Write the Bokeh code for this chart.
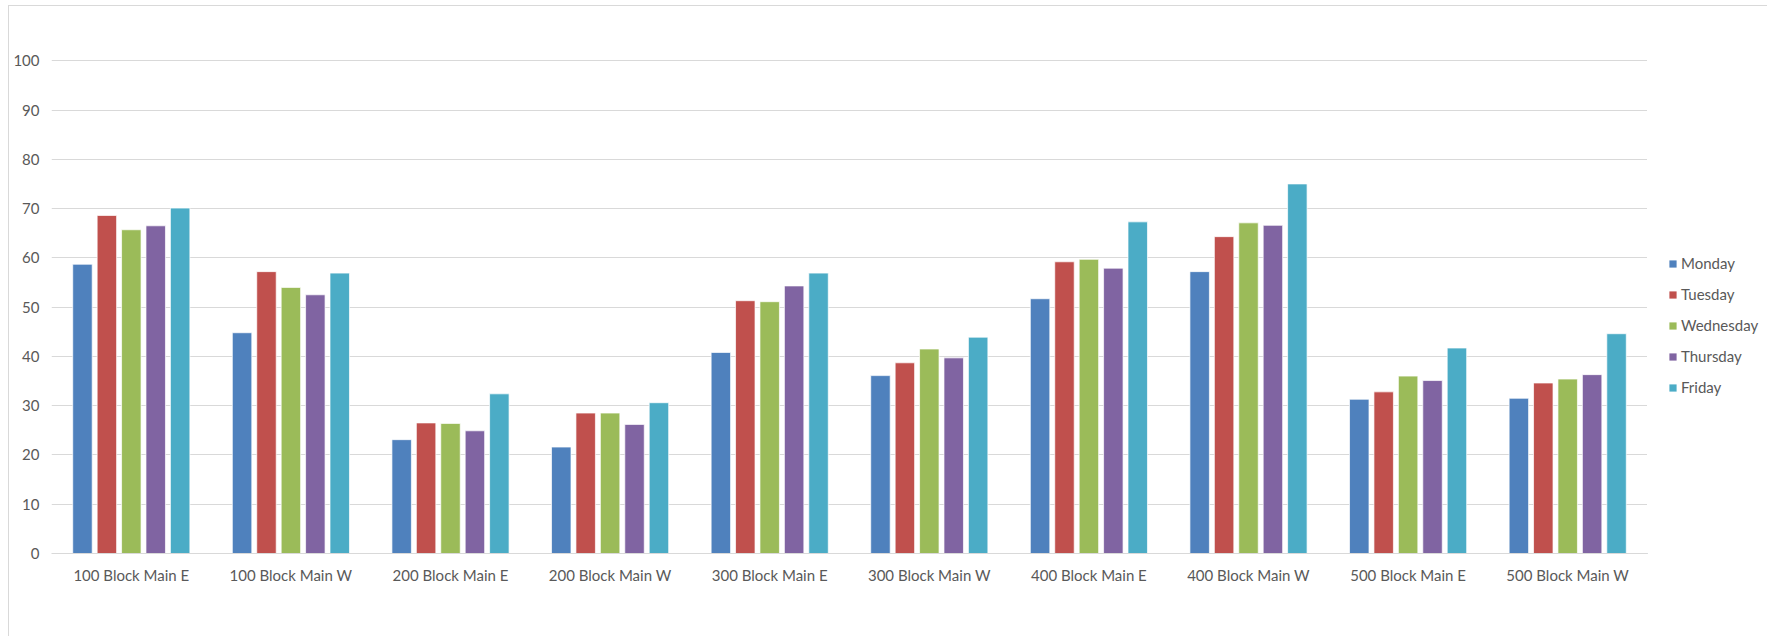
from bokeh.plotting import figure
from bokeh.layouts import row
from bokeh.models import FactorRange, Range1d, Legend, LegendItem, FixedTicker, ColumnDataSource
from bokeh.transform import dodge
from bokeh.embed import file_html
from bokeh.resources import INLINE

categories = ["100 Block Main E", "100 Block Main W", "200 Block Main E", "200 Block Main W",
              "300 Block Main E", "300 Block Main W", "400 Block Main E", "400 Block Main W",
              "500 Block Main E", "500 Block Main W"]
days = ["Monday", "Tuesday", "Wednesday", "Thursday", "Friday"]
monday = [58.7, 44.8, 23.1, 21.6, 40.8, 36.1, 51.7, 57.2, 31.3, 31.5]
tuesday = [68.6, 57.2, 26.5, 28.5, 51.3, 38.7, 59.2, 64.3, 32.8, 34.6]
wednesday = [65.7, 54.0, 26.4, 28.5, 51.1, 41.5, 59.7, 67.1, 36.0, 35.4]
thursday = [66.5, 52.5, 24.9, 26.2, 54.3, 39.7, 57.9, 66.6, 35.1, 36.3]
friday = [70.1, 56.9, 32.4, 30.6, 56.9, 43.9, 67.3, 75.0, 41.7, 44.6]
y_ticks = [0, 10, 20, 30, 40, 50, 60, 70, 80, 90, 100]

colors = ["#4F81BD", "#C0504D", "#9BBB59", "#8064A2", "#4BACC6"]
FONT = "Lato"
TXT = "#595959"

src = ColumnDataSource(dict(cat=categories, Monday=monday, Tuesday=tuesday,
                            Wednesday=wednesday, Thursday=thursday, Friday=friday))

H = 630
p = figure(x_range=FactorRange(factors=categories), y_range=Range1d(0, 100.25),
           width=1638, height=H, output_backend="svg", toolbar_location=None,
           min_border_left=42, min_border_right=0, min_border_top=53, min_border_bottom=H - 53 - 494)
p.outline_line_color = None
p.background_fill_color = "white"
p.border_fill_color = "white"

step = 0.153
bw = 0.122
for i, (d, c) in enumerate(zip(days, colors)):
    p.vbar(x=dodge("cat", (i - 2) * step, range=p.x_range), top=d, width=bw, source=src,
           fill_color=c, line_color="white", line_alpha=0.7, line_width=1)

p.xgrid.grid_line_color = None
p.ygrid.grid_line_color = "#d9d9d9"
p.ygrid.grid_line_width = 1
for ax in (p.xaxis, p.yaxis):
    ax.major_tick_line_color = None
    ax.minor_tick_line_color = None
    ax.major_tick_out = 0
    ax.major_tick_in = 0
    ax.minor_tick_out = 0
    ax.minor_tick_in = 0
    ax.major_label_text_font = FONT
    ax.major_label_text_font_size = "15px"
    ax.major_label_text_color = TXT

p.yaxis.ticker = FixedTicker(ticks=y_ticks)
p.yaxis.axis_line_color = None
p.yaxis.major_label_standoff = 12

p.xaxis.axis_line_color = "#d9d9d9"
p.xaxis.major_label_standoff = 12

# legend panel
lg = figure(width=120, height=H, output_backend="svg", toolbar_location=None,
            x_range=Range1d(0, 1), y_range=Range1d(0, 1),
            min_border=0, min_border_left=0, min_border_right=0, min_border_top=0, min_border_bottom=0)
lg.axis.visible = False
lg.grid.visible = False
lg.outline_line_color = None
lg.border_fill_color = "white"
items = []
for d, c in zip(days, colors):
    r = lg.vbar(x=[-10], top=[-10], width=0.1, fill_color=c, line_color=None)
    items.append(LegendItem(label=d, renderers=[r]))
legend = Legend(items=items, location=(21, 157), orientation="vertical",
                glyph_width=9, glyph_height=9, label_height=16, spacing=13,
                label_standoff=4, padding=0, margin=0,
                border_line_color=None, background_fill_alpha=0,
                label_text_font=FONT, label_text_font_size="15px", label_text_color=TXT)
lg.add_layout(legend, "center")

layout = row(p, lg)
layout.styles = {"margin-left": "8px", "margin-top": "5px",
                 "border-left": "1px solid #d9d9d9", "border-top": "1px solid #d9d9d9"}

open("out.html", "w").write(file_html(layout, INLINE))
